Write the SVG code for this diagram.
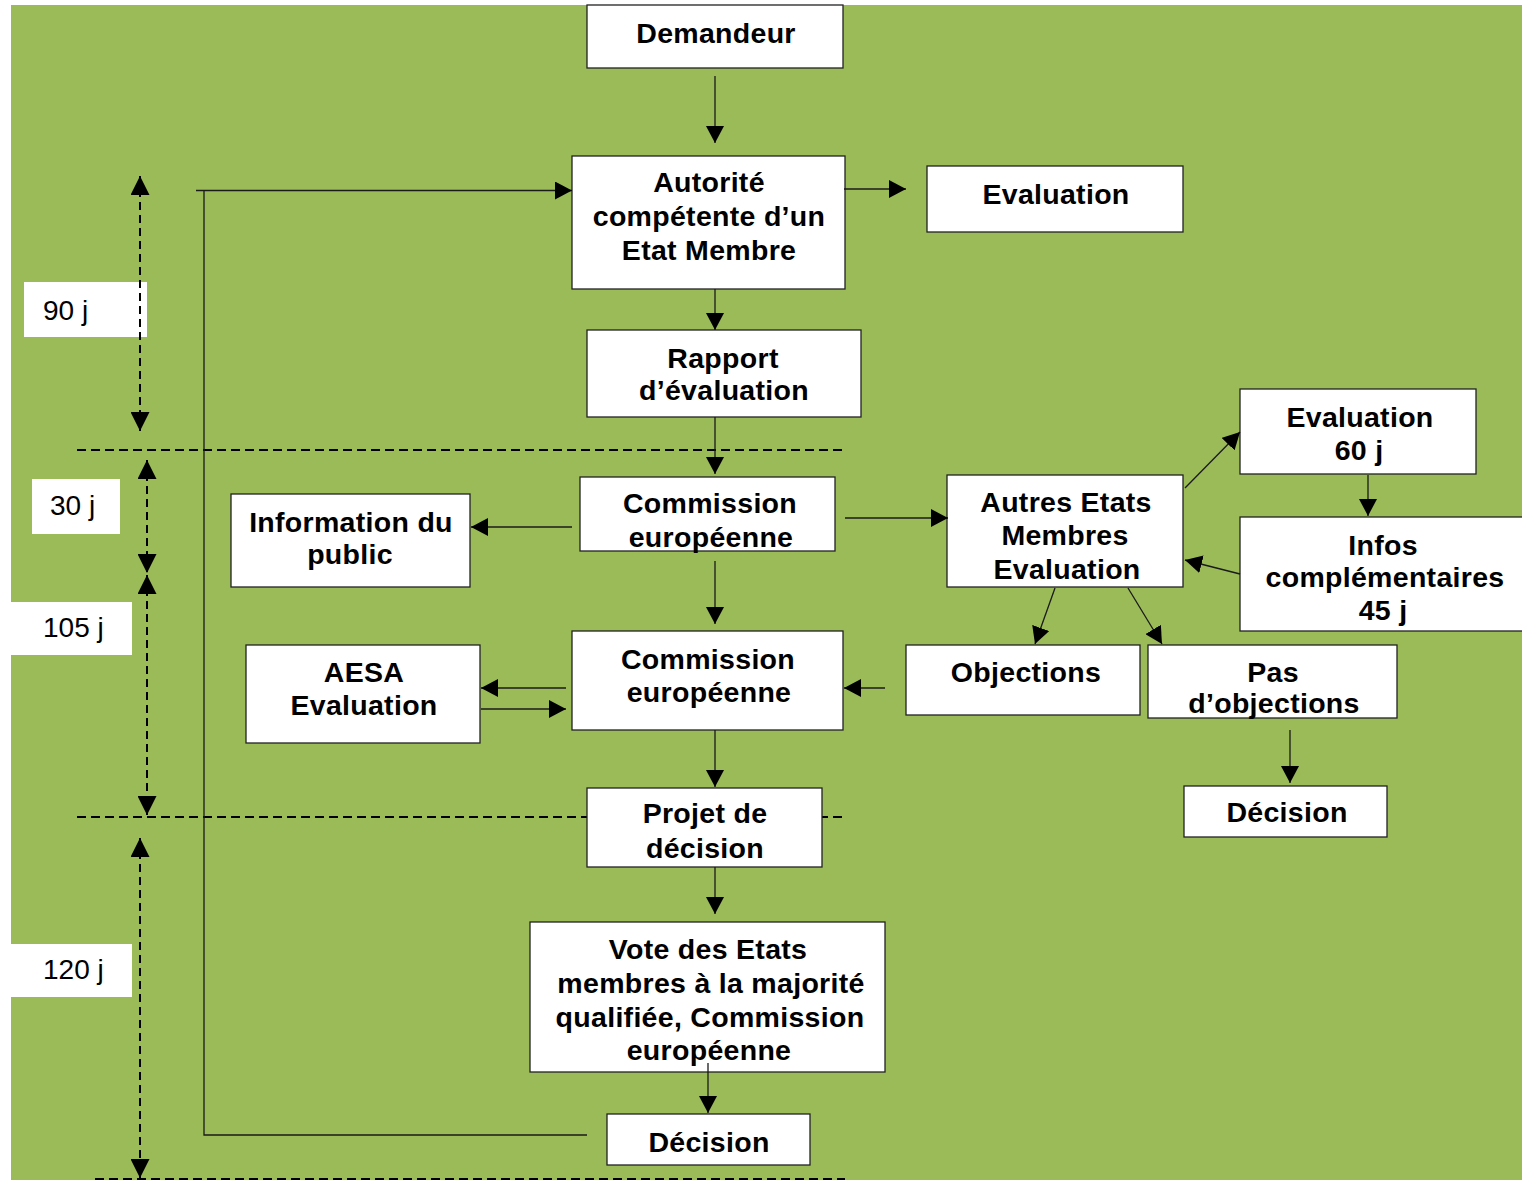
<svg xmlns="http://www.w3.org/2000/svg" width="1522" height="1180" viewBox="0 0 1522 1180">
<defs>
<style>
.box{fill:#fff;stroke:#222;stroke-width:1.3}
.t{font-family:"Liberation Sans",Arial,sans-serif;font-weight:bold;font-size:28.5px;letter-spacing:0.3px;text-anchor:middle;fill:#000}
.l{font-family:"Liberation Sans",Arial,sans-serif;font-size:28px;fill:#000}
.lb{fill:#fff}
.c{stroke:#1a1a1a;stroke-width:1.3;fill:none}
.d{stroke:#000;stroke-width:2;stroke-dasharray:9 5;fill:none}
.dv{stroke:#000;stroke-width:2;stroke-dasharray:8 5;fill:none}
</style>
<marker id="ah" viewBox="0 0 17 18" markerWidth="17" markerHeight="18" refX="17" refY="9" orient="auto" markerUnits="userSpaceOnUse"><path d="M0,0 L17,9 L0,18 z" fill="#000"/></marker>
<marker id="dh" viewBox="0 0 19 19" markerWidth="19" markerHeight="19" refX="19" refY="9.5" orient="auto-start-reverse" markerUnits="userSpaceOnUse"><path d="M0,0 L19,9.5 L0,19 z" fill="#000"/></marker>
</defs>
<rect x="0" y="0" width="1522" height="1180" fill="#fff"/>
<rect x="11" y="5" width="1511" height="1175" fill="#9BBB59"/>

<g id="phases">
<path class="d" d="M77,450 H843"/>
<path class="d" d="M77,817 H843"/>
<path class="d" d="M95,1179 H845"/>
</g>

<g id="labels">
<rect class="lb" x="24" y="282" width="123" height="55"/>
<text class="l" x="43" y="320">90 j</text>
<rect class="lb" x="32" y="479" width="88" height="55"/>
<text class="l" x="50" y="515">30 j</text>
<rect class="lb" x="11" y="602" width="121" height="53"/>
<text class="l" x="43" y="637">105 j</text>
<rect class="lb" x="11" y="944" width="121" height="53"/>
<text class="l" x="43" y="979">120 j</text>
</g>

<g id="dimensions">
<path class="dv" d="M140,176 V431" marker-start="url(#dh)" marker-end="url(#dh)"/>
<path class="dv" d="M147,460 V573" marker-start="url(#dh)" marker-end="url(#dh)"/>
<path class="dv" d="M147,575 V815" marker-start="url(#dh)" marker-end="url(#dh)"/>
<path class="dv" d="M140,838 V1178" marker-start="url(#dh)" marker-end="url(#dh)"/>
</g>

<g id="demandeur"><rect class="box" x="587" y="5" width="256" height="63"/><text class="t" x="716" y="43">Demandeur</text></g>
<g id="autorite"><rect class="box" x="572" y="156" width="273" height="133"/><text class="t" x="709" y="192">Autorité</text><text class="t" x="709" y="226">compétente d’un</text><text class="t" x="709" y="260">Etat Membre</text></g>
<g id="evaluation1"><rect class="box" x="927" y="166" width="256" height="66"/><text class="t" x="1056" y="204">Evaluation</text></g>
<g id="rapport"><rect class="box" x="587" y="330" width="274" height="87"/><text class="t" x="723" y="368">Rapport</text><text class="t" x="724" y="400">d’évaluation</text></g>
<g id="commission1"><rect class="box" x="580" y="477" width="255" height="74"/><text class="t" x="710" y="513">Commission</text><text class="t" x="711" y="547">européenne</text></g>
<g id="information"><rect class="box" x="231" y="494" width="239" height="93"/><text class="t" x="351" y="532">Information du</text><text class="t" x="350" y="564">public</text></g>
<g id="autres"><rect class="box" x="947" y="475" width="236" height="112"/><text class="t" x="1066" y="512">Autres Etats</text><text class="t" x="1065" y="545">Membres</text><text class="t" x="1067" y="579">Evaluation</text></g>
<g id="evaluation60"><rect class="box" x="1240" y="389" width="236" height="85"/><text class="t" x="1360" y="427">Evaluation</text><text class="t" x="1359" y="460">60 j</text></g>
<g id="infos"><rect class="box" x="1240" y="517" width="290" height="114"/><text class="t" x="1383" y="555">Infos</text><text class="t" x="1385" y="587">complémentaires</text><text class="t" x="1383" y="620">45 j</text></g>
<g id="objections"><rect class="box" x="906" y="645" width="234" height="70"/><text class="t" x="1026" y="682">Objections</text></g>
<g id="pasobjections"><rect class="box" x="1148" y="645" width="249" height="73"/><text class="t" x="1273" y="682">Pas</text><text class="t" x="1274" y="713">d’objections</text></g>
<g id="decision2"><rect class="box" x="1184" y="786" width="203" height="51"/><text class="t" x="1287" y="822">Décision</text></g>
<g id="commission2"><rect class="box" x="572" y="631" width="271" height="99"/><text class="t" x="708" y="669">Commission</text><text class="t" x="709" y="702">européenne</text></g>
<g id="aesa"><rect class="box" x="246" y="645" width="234" height="98"/><text class="t" x="364" y="682">AESA</text><text class="t" x="364" y="715">Evaluation</text></g>
<g id="projet"><rect class="box" x="587" y="788" width="235" height="79"/><text class="t" x="705" y="823">Projet de</text><text class="t" x="705" y="858">décision</text></g>
<g id="vote"><rect class="box" x="530" y="922" width="355" height="150"/><text class="t" x="708" y="959">Vote des Etats</text><text class="t" x="711" y="993">membres à la majorité</text><text class="t" x="710" y="1027">qualifiée, Commission</text><text class="t" x="709" y="1060">européenne</text></g>
<g id="decision1"><rect class="box" x="607" y="1114" width="203" height="51"/><text class="t" x="709" y="1152">Décision</text></g>

<g id="connectors">
<path class="c" d="M715,76 V143" marker-end="url(#ah)"/>
<path class="c" d="M844,189 H906" marker-end="url(#ah)"/>
<path class="c" d="M715,289 V330" marker-end="url(#ah)"/>
<path class="c" d="M715,417 V474" marker-end="url(#ah)"/>
<path class="c" d="M572,527 H471" marker-end="url(#ah)"/>
<path class="c" d="M845,518 H948" marker-end="url(#ah)"/>
<path class="c" d="M1185,488 L1240,432" marker-end="url(#ah)"/>
<path class="c" d="M1368,475 V516" marker-end="url(#ah)"/>
<path class="c" d="M1240,574 L1185,560" marker-end="url(#ah)"/>
<path class="c" d="M1055,588 L1035,644" marker-end="url(#ah)"/>
<path class="c" d="M1128,588 L1162,644" marker-end="url(#ah)"/>
<path class="c" d="M1290,730 V783" marker-end="url(#ah)"/>
<path class="c" d="M885,688 H844" marker-end="url(#ah)"/>
<path class="c" d="M715,561 V624" marker-end="url(#ah)"/>
<path class="c" d="M566,688 H481" marker-end="url(#ah)"/>
<path class="c" d="M481,709 H566" marker-end="url(#ah)"/>
<path class="c" d="M715,730 V787" marker-end="url(#ah)"/>
<path class="c" d="M715,867 V914" marker-end="url(#ah)"/>
<path class="c" d="M708,1063 V1113" marker-end="url(#ah)"/>
<path class="c" d="M587,1135 H204 V190"/>
<path class="c" d="M196,190.5 H572" marker-end="url(#ah)"/>
</g>
</svg>
